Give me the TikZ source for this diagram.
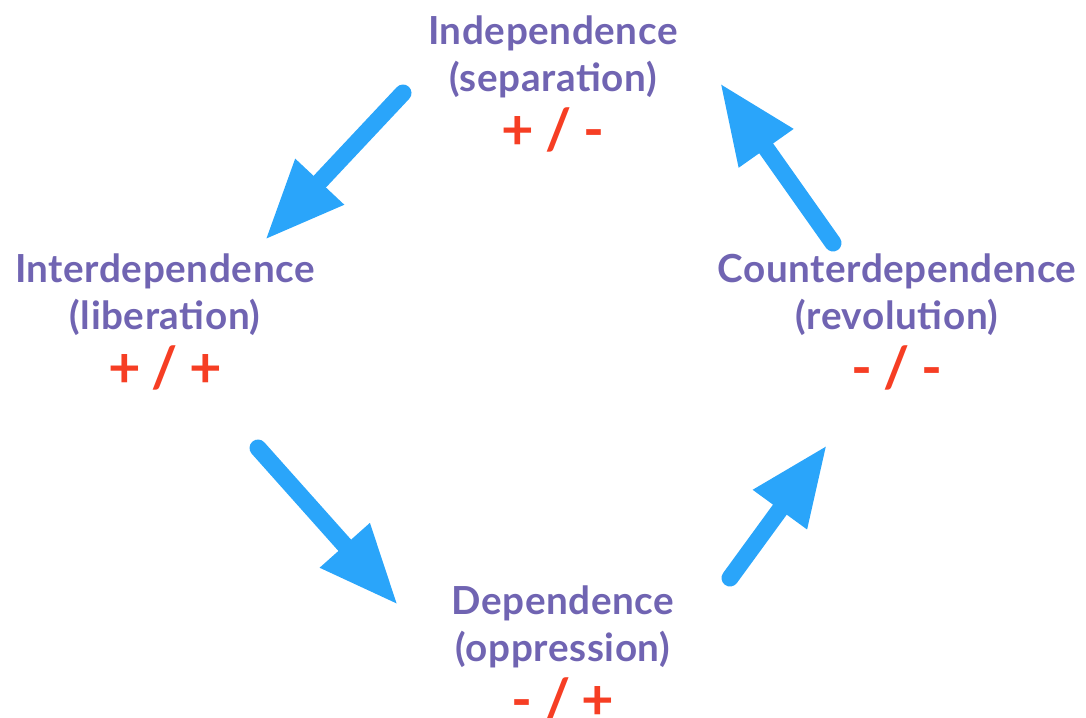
\documentclass[tikz,border=0pt]{standalone}
\usepackage{fontspec}
\setmainfont{Lato}[LetterSpace=1.5]
\usetikzlibrary{arrows.meta}
\definecolor{cyname}{RGB}{112,100,178}
\definecolor{cysign}{RGB}{246,62,36}
\definecolor{cyflow}{RGB}{42,165,250}
\newcommand{\signs}[2]{{\fontsize{32}{27}\selectfont\textcolor{cysign}{#1\hspace{0.2em}/\hspace{0.2em}#2}}}

\begin{document}
\begin{tikzpicture}[
    >={Triangle[length=16mm,width=12.4mm]},
    stage/.style={align=center, text=cyname, font=\fontsize{22}{27}\selectfont\bfseries, inner sep=0pt},
    flow/.style={->, draw=cyflow, line width=3.4mm, line cap=round},
  ]
  \useasboundingbox (0,0) rectangle (21.72,14.34);

  %% the four stages of the cycle
  \node[stage] (indep)   at (11.06,12.66) {Independence\\(separation)\\[4.5pt]\signs{+}{-}};
  \node[stage] (inter)   at (3.30,7.90)   {Interdependence\\(liberation)\\[4.5pt]\signs{+}{+}};
  \node[stage] (counter) at (17.94,7.90)  {Counterdependence\\(revolution)\\[4.5pt]\signs{-}{-}};
  \node[stage] (dep)     at (11.26,1.26)  {Dependence\\(oppression)\\[4.5pt]\signs{-}{+}};

  %% arrow ends
  \coordinate (a1s) at (8.06,12.48);  \coordinate (a1e) at (5.30,9.54);
  \coordinate (a2s) at (5.16,5.38);   \coordinate (a2e) at (7.96,2.24);
  \coordinate (a3s) at (14.60,2.78);  \coordinate (a3e) at (16.54,5.44);
  \coordinate (a4s) at (16.66,9.48);  \coordinate (a4e) at (14.40,12.68);

  \draw[flow] (a1s) -- (a1e);
  \draw[flow] (a2s) -- (a2e);
  \draw[flow] (a3s) -- (a3e);
  \draw[flow] (a4s) -- (a4e);

\end{tikzpicture}
\end{document}
